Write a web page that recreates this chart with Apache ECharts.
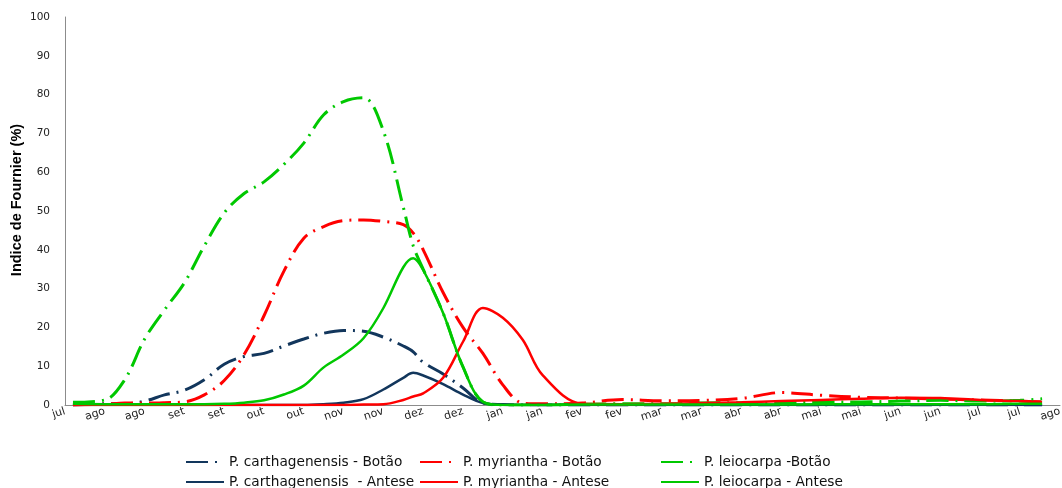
<!DOCTYPE html>
<html>
<head>
<meta charset="utf-8">
<script src="https://cdn.jsdelivr.net/npm/echarts@6/dist/echarts.min.js"></script>
<style>
  html, body { margin: 0; padding: 0; background: #ffffff; }
  #chart { width: 1062px; height: 488px; }
</style>
</head>
<body>
<div id="chart"></div>
<script>
// Fortnightly tick labels along the x axis (jul .. ago of the following year)
const tickLabels = ['jul','ago','ago','set','set','out','out','nov','nov','dez','dez','jan','jan',
  'fev','fev','mar','mar','abr','abr','mai','mai','jun','jun','jul','jul','ago'];

// Sampling positions, in tick units along the x axis
const samplePos = [0.2, 1, 1.5, 2, 2.5, 3, 3.5, 4, 4.5, 5, 5.5, 6, 6.5, 7, 7.5, 8, 8.5, 8.75, 9, 9.5,
  10, 10.5, 11, 11.5, 12, 13, 14, 15, 16, 17, 18, 19, 20, 21, 22, 23, 24, 24.55];

// Fournier index (%) for each species and phenophase
const carthBotao = [0, 0.3, 0.3, 1.0, 2.6, 3.8, 6.5, 10.5, 12.5, 13.3, 15.2, 17, 18.5, 19.2, 19, 17.5, 15.2, 13.7, 11, 8,
  4.4, 0.5, 0.1, 0, 0, 0, 0, 0, 0, 0, 0, 0, 0, 0, 0, 0, 0, 0];
const myrBotao = [0, 0.2, 0.5, 0.5, 0.6, 0.8, 2.6, 6.3, 13, 23, 34.5, 43, 46, 47.5, 47.7, 47.3, 46.5, 44.3, 40, 29,
  20, 13.3, 5.2, 0.5, 0.3, 0.5, 1.4, 1.1, 1.2, 1.7, 3.2, 2.5, 2.0, 1.8, 1.5, 1.3, 1.0, 0.8];
const leioBotao = [0.7, 1.3, 6.5, 17, 24.5, 31.5, 41, 49.5, 54.5, 57.5, 62, 67.5, 74.8, 78.2, 79.2, 70.6, 51, 41, 35, 23.7,
  9.8, 0.8, 0, 0, 0, 0.2, 0.3, 0.3, 0.5, 0.6, 0.5, 0.8, 0.8, 1.0, 1.2, 1.0, 1.2, 1.6];
const carthAntese = [0, 0, 0, 0, 0, 0, 0, 0, 0, 0, 0, 0, 0.2, 0.6, 1.5, 4, 7, 8.3, 7.6, 5.4,
  2.7, 0.5, 0.1, 0, 0, 0, 0, 0, 0, 0, 0, 0, 0, 0, 0, 0, 0, 0];
const myrAntese = [0, 0, 0, 0, 0, 0, 0, 0, 0, 0, 0, 0, 0, 0, 0.1, 0.2, 1.3, 2.2, 3, 7,
  16.3, 25, 22.5, 16.8, 7.7, 0.3, 0.2, 0.3, 0.5, 0.7, 1.0, 1.3, 1.6, 1.9, 1.8, 1.3, 1.0, 0.8];
const leioAntese = [0.3, 0.2, 0.2, 0.2, 0.2, 0.2, 0.2, 0.3, 0.6, 1.2, 2.7, 5, 9.7, 13, 17.2, 25, 35.5, 37.8, 34.8, 23.7,
  9.8, 0.8, 0, 0, 0, 0.1, 0.1, 0.1, 0.1, 0.1, 0.1, 0.2, 0.2, 0.2, 0.2, 0.2, 0.3, 0.3];

const seriesNames = [
  'P. carthagenensis - Botão',
  'P. myriantha - Botão',
  'P. leiocarpa -Botão',
  'P. carthagenensis  - Antese',
  'P. myriantha - Antese',
  'P. leiocarpa - Antese'
];

const NAVY = '#12365c';
const RED = '#ff0000';
const GREEN = '#00c800';
const WIDE_FONT = 'DejaVu Sans, Verdana, sans-serif';
const NAME_FONT = 'Liberation Sans, Arial, sans-serif';

function makeSeries(name, values, color, dashDot) {
  return {
    name: name,
    type: 'line',
    smooth: 0.35,
    symbol: 'none',
    data: samplePos.map((x, i) => [x, values[i]]),
    itemStyle: { color: color },
    lineStyle: {
      color: color,
      width: dashDot ? 3 : 2.5,
      type: dashDot ? [22, 7, 2, 7] : 'solid'
    }
  };
}

// One legend box per entry: three columns, two rows
const legendCols = [185, 419, 660];
const legendRows = [454, 474];
const legends = seriesNames.map((name, i) => ({
  data: [name],
  left: legendCols[i % 3],
  top: legendRows[Math.floor(i / 3)],
  padding: 0,
  itemWidth: 38,
  itemHeight: 10,
  itemStyle: { opacity: 0 },
  textStyle: { fontFamily: WIDE_FONT, fontSize: 13.7, color: '#111', lineHeight: 16 }
}));

const chart = echarts.init(document.getElementById('chart'), null, { renderer: 'canvas' });
chart.setOption({
  backgroundColor: '#ffffff',
  animation: false,
  grid: { left: 65, right: 2, top: 17, bottom: 83, containLabel: false, outerBoundsMode: 'none' },
  legend: legends,
  xAxis: {
    type: 'value',
    min: 0,
    max: tickLabels.length - 1,
    interval: 1,
    axisLine: { show: true, lineStyle: { color: '#8c8c8c', width: 1 } },
    axisTick: { show: false },
    splitLine: { show: false },
    axisLabel: {
      rotate: 18,
      margin: 6,
      fontFamily: WIDE_FONT,
      fontSize: 11,
      color: '#222',
      formatter: v => tickLabels[Math.round(v)] || ''
    }
  },
  yAxis: {
    type: 'value',
    min: 0,
    max: 100,
    interval: 10,
    name: 'Indice de Fournier (%)',
    nameLocation: 'middle',
    nameGap: 41,
    nameMoveOverlap: false,
    nameTextStyle: {
      fontFamily: NAME_FONT, fontSize: 14.5, fontWeight: 'bold', color: '#000',
      padding: [0, 0, 0, 22]
    },
    axisLine: { show: true, lineStyle: { color: '#8c8c8c', width: 1 } },
    axisTick: { show: false },
    splitLine: { show: false },
    axisLabel: { margin: 15, fontFamily: WIDE_FONT, fontSize: 10.5, color: '#222' }
  },
  series: [
    makeSeries(seriesNames[0], carthBotao, NAVY, true),
    makeSeries(seriesNames[1], myrBotao, RED, true),
    makeSeries(seriesNames[2], leioBotao, GREEN, true),
    makeSeries(seriesNames[3], carthAntese, NAVY, false),
    makeSeries(seriesNames[4], myrAntese, RED, false),
    makeSeries(seriesNames[5], leioAntese, GREEN, false)
  ]
});
</script>
</body>
</html>
